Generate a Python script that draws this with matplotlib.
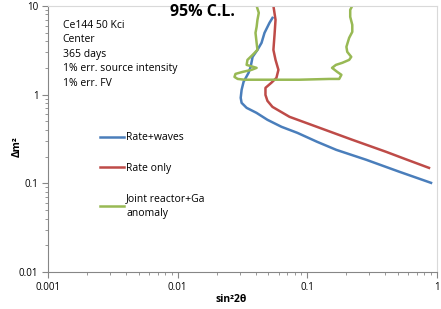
import matplotlib
matplotlib.use("Agg")
import matplotlib.pyplot as plt
from matplotlib.ticker import LogLocator, FixedLocator, FixedFormatter, NullFormatter

# contour points (sin^2 2theta, dm^2)
waves_s2t = [0.0538, 0.0510, 0.0467, 0.0443, 0.0412, 0.0378, 0.0365, 0.0352, 0.0322,
             0.0311, 0.0306, 0.0311, 0.0340, 0.0405, 0.0492, 0.0631, 0.0837, 0.119,
             0.167, 0.284, 0.510, 0.899]
waves_dm2 = [7.32, 6.43, 4.96, 3.83, 3.19, 2.66, 2.05, 1.76, 1.39,
             1.13, 0.918, 0.806, 0.708, 0.622, 0.519, 0.433, 0.370, 0.293,
             0.238, 0.184, 0.135, 0.101]

rate_s2t = [0.0547, 0.0568, 0.0558, 0.0547, 0.0568, 0.0598, 0.0577, 0.0528, 0.0475,
            0.0475, 0.0492, 0.0538, 0.0728, 0.124, 0.222, 0.405, 0.588, 0.867]
rate_dm2 = [10.0, 6.96, 4.71, 3.19, 2.46, 1.90, 1.54, 1.36, 1.19,
            0.99, 0.849, 0.726, 0.561, 0.422, 0.309, 0.226, 0.184, 0.149]

joint_s2t = [0.0406, 0.0422, 0.0412, 0.0406, 0.0398, 0.0406, 0.0412, 0.0378, 0.0345,
             0.0340, 0.0406, 0.0371, 0.0316, 0.0279, 0.0274, 0.0290, 0.0327, 0.0866,
             0.148, 0.176, 0.183, 0.170, 0.155, 0.166, 0.186, 0.210, 0.218, 0.203,
             0.200, 0.210, 0.222, 0.222, 0.214, 0.214, 0.222]
joint_dm2 = [10.0, 8.34, 6.95, 5.80, 4.96, 3.83, 3.19, 2.80, 2.46,
             2.16, 2.00, 1.90, 1.80, 1.71, 1.58, 1.50, 1.47, 1.47,
             1.50, 1.50, 1.67, 1.80, 2.00, 2.16, 2.28, 2.46, 2.66, 3.03,
             3.45, 4.36, 5.09, 6.11, 7.52, 9.02, 10.0]

x_ticks = [0.001, 0.01, 0.1, 1]
x_labels = ["0.001", "0.01", "0.1", "1"]
y_ticks = [0.01, 0.1, 1, 10]
y_labels = ["0.01", "0.1", "1", "10"]

info_lines = ["Ce144 50 Kci", "Center", "365 days",
              "1% err. source intensity", "1% err. FV"]

plt.rcParams['font.family'] = ['Open Sans', 'DejaVu Sans']

fig = plt.figure(figsize=(4.41, 3.09), dpi=100)
ax = fig.add_axes([0.109, 0.120, 0.882, 0.861])

ax.plot(waves_s2t, waves_dm2, color='#4A7EBB', lw=1.8, label='Rate+waves')
ax.plot(rate_s2t, rate_dm2, color='#BE4B48', lw=1.8, label='Rate only')
ax.plot(joint_s2t, joint_dm2, color='#98B954', lw=1.8, label='Joint reactor+Ga\nanomaly')

ax.set_xscale('log')
ax.set_yscale('log')
ax.set_xlim(0.001, 1)
ax.set_ylim(0.01, 10)

ax.xaxis.set_major_locator(FixedLocator(x_ticks))
ax.xaxis.set_major_formatter(FixedFormatter(x_labels))
ax.yaxis.set_major_locator(FixedLocator(y_ticks))
ax.yaxis.set_major_formatter(FixedFormatter(y_labels))
ax.xaxis.set_minor_locator(LogLocator(base=10, subs=range(2, 10)))
ax.yaxis.set_minor_locator(LogLocator(base=10, subs=range(2, 10)))
ax.xaxis.set_minor_formatter(NullFormatter())
ax.yaxis.set_minor_formatter(NullFormatter())

ax.tick_params(which='major', labelsize=7, length=4, color='#868686', width=0.8, pad=3)
ax.tick_params(which='minor', length=2, color='#868686', width=0.6)
for side in ['left', 'bottom']:
    ax.spines[side].set_color('#868686')
for side in ['top', 'right']:
    ax.spines[side].set_color('#D9D9D9')

# axis titles placed where the reference has them
fig.text(231 / 441, 1 - 300 / 309, 'sin²2θ', fontsize=7.5, fontweight='bold',
         ha='center', va='center')
fig.text(17 / 441, 1 - 147 / 309, 'Δm²', fontsize=7.5, fontweight='bold',
         ha='center', va='center', rotation=90)

fig.text(0.46, 0.96, '95% C.L.', fontsize=11.5, fontweight='bold', ha='center', va='center')

for i, line in enumerate(info_lines):
    ax.text(0.038, 0.928 - i * 0.0545, line, transform=ax.transAxes,
            fontsize=7.5, va='center', ha='left')

leg = ax.legend(loc='upper left', bbox_to_anchor=(0.11, 0.56), frameon=False, fontsize=7.5,
                handlelength=2.3, handletextpad=0.2, labelspacing=1.85)
for t in leg.get_texts():
    t.set_linespacing(1.5)

fig.savefig('out.png', dpi=100)
